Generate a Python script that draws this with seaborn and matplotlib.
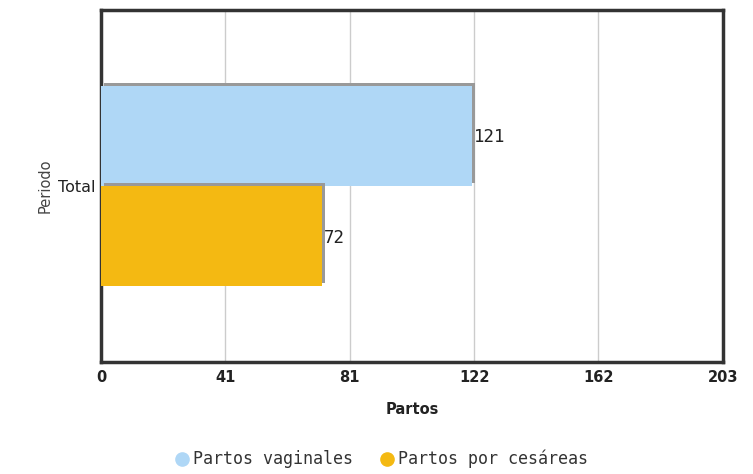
import pandas as pd
import matplotlib.pyplot as plt
import matplotlib.patheffects as pe
from matplotlib.lines import Line2D
import seaborn as sns

# datos
periodo = ['Total', 'Total']
serie = ['Partos vaginales', 'Partos por cesáreas']
partos = [121, 72]
colores = ['#AFD7F6', '#F4B912']
ticks = [0, 40.6, 81.2, 121.8, 162.4, 203]
tick_labels = ['0', '41', '81', '122', '162', '203']

df = pd.DataFrame({'Periodo': periodo, 'Serie': serie, 'Partos': partos})

sns.set_style('white')
plt.rcParams['font.family'] = ['DejaVu Sans']

fig = plt.figure(figsize=(7.53, 4.74), dpi=100)
ax = fig.add_axes([0.134, 0.236, 0.826, 0.743])

sns.barplot(data=df, y='Periodo', x='Partos', hue='Serie', palette=colores,
            saturation=1, orient='h', width=0.57, ax=ax, legend=False, zorder=3)

# sombra gris de las barras
for p in ax.patches:
    p.set_linewidth(0)
    p.set_path_effects([pe.SimplePatchShadow(offset=(2.2, 2.2), shadow_rgbFace='#999999', alpha=1.0),
                        pe.Normal()])

# etiquetas de valor
for p, v in zip(ax.patches, partos):
    ax.annotate(f'{v}', (p.get_width(), p.get_y() + p.get_height() / 2),
                xytext=(1.5, -1), textcoords='offset points', ha='left', va='center',
                fontsize=12.5, family='DejaVu Sans Mono', color='#222222', zorder=5)

ax.set_xlim(0, 203)
ax.set_ylim(0.5, -0.5)
ax.set_xticks(ticks)
ax.set_xticklabels(tick_labels, fontsize=10.5, fontweight='bold', color='#222222')
ax.tick_params(axis='y', labelsize=11.5, labelcolor='#222222', length=0, pad=4)
ax.tick_params(axis='x', length=0, pad=6)
ax.grid(axis='x', color='#CCCCCC', linewidth=1, zorder=0)
ax.set_axisbelow(True)
for s in ax.spines.values():
    s.set_color('#333333')
    s.set_linewidth(2.5)

ax.set_xlabel('Partos', fontsize=10.5, fontweight='bold', color='#222222', labelpad=12)
ax.set_ylabel('Periodo', fontsize=10.5, color='#444444', labelpad=4)

handles = [Line2D([0], [0], marker='o', linestyle='', markersize=9.5,
                  markerfacecolor=c, markeredgecolor=c) for c in colores]
fig.legend(handles, serie, loc='lower center', bbox_to_anchor=(0.5, -0.02), ncol=2,
           frameon=False, prop={'family': 'DejaVu Sans Mono', 'size': 12},
           handletextpad=-0.3, columnspacing=1.0, labelcolor='#333333')

plt.savefig('out.png', dpi=100)
